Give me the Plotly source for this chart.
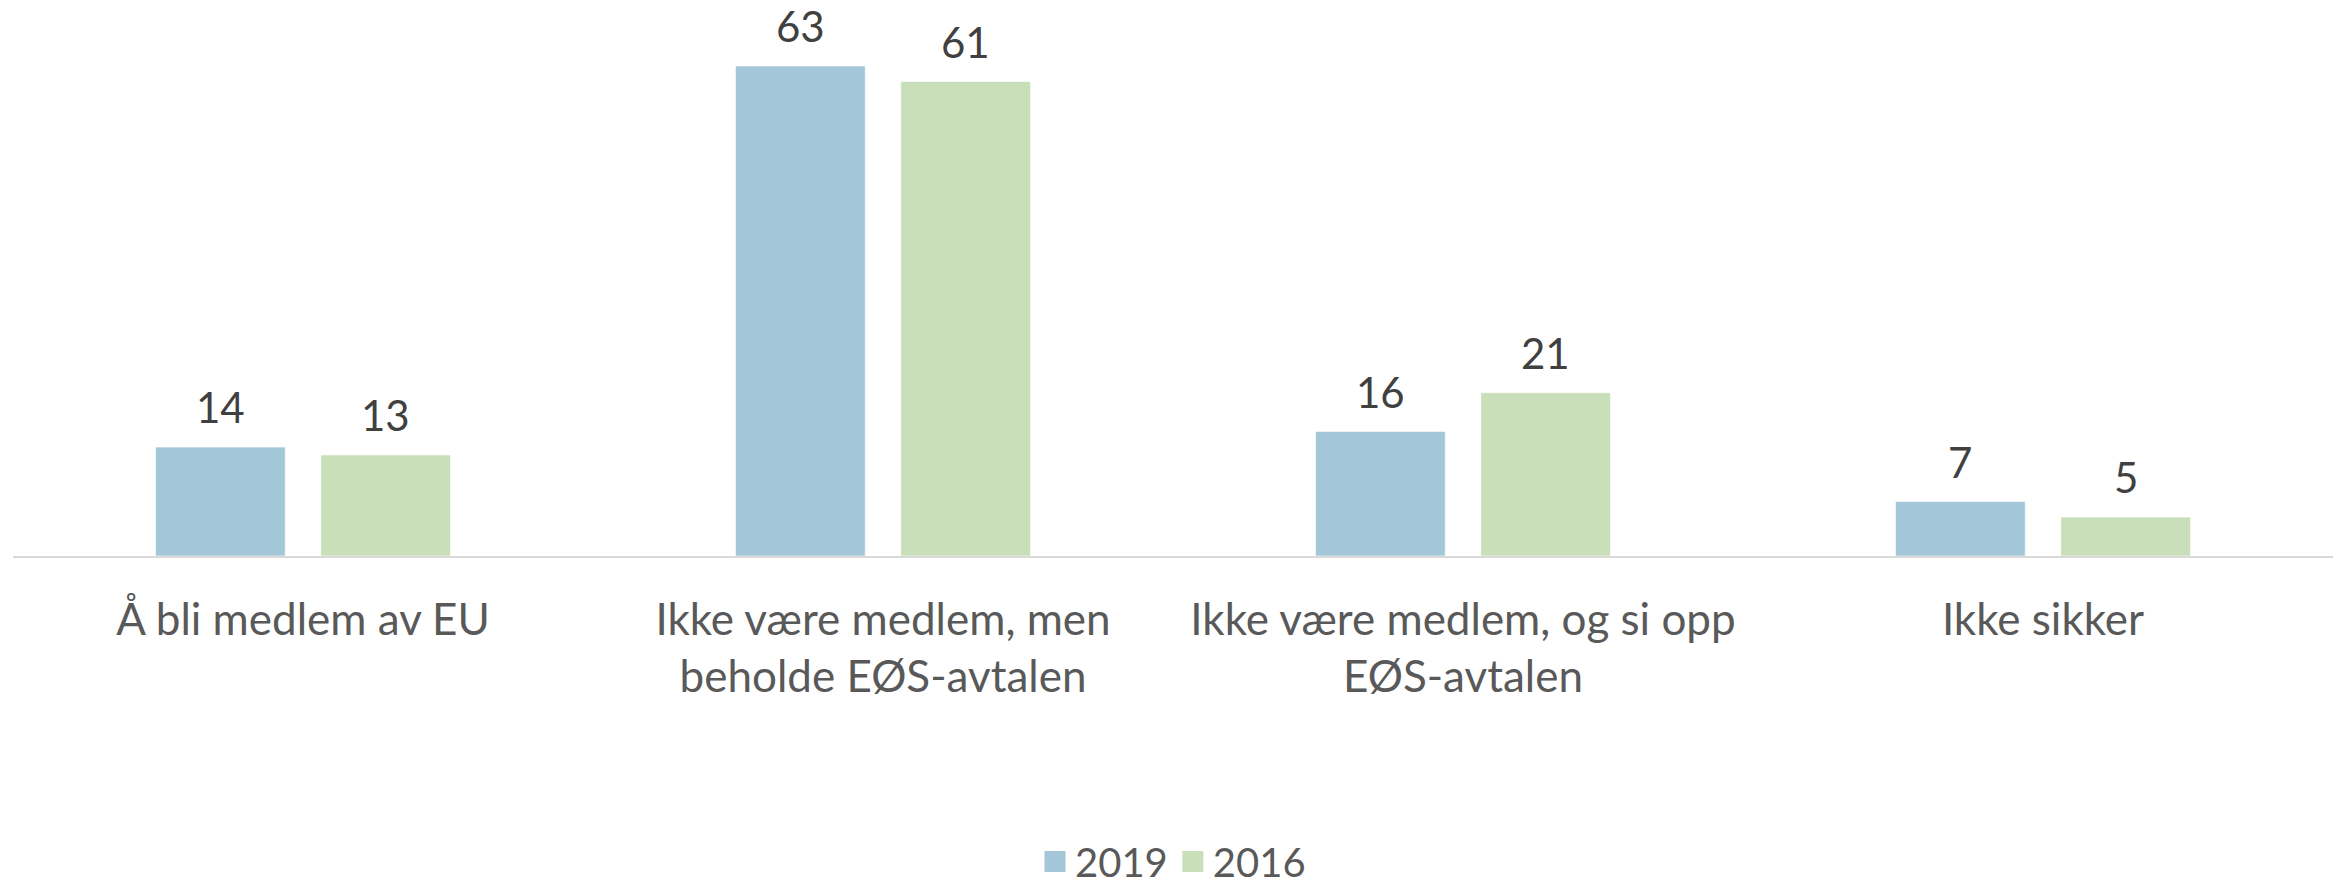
import plotly.graph_objects as go

categories = [
    "Å bli medlem av EU",
    "Ikke være medlem, men<br>beholde EØS-avtalen",
    "Ikke være medlem, og si opp<br>EØS-avtalen",
    "Ikke sikker",
]
series_names = ["2019", "2016"]
values_2019 = [14, 63, 16, 7]
values_2016 = [13, 61, 21, 5]

colors = ["#A3C6D9", "#C9DFBA"]
FONT = "Lato, 'Source Sans Pro', 'Noto Sans', sans-serif"

W, H = 2341, 891
ml, mr, mt, mb = 13, 8, 20, 335
bargap = 0.43
bargroupgap = 0.215

fig = go.Figure()
for name, vals, col in zip(series_names, [values_2019, values_2016], colors):
    fig.add_trace(go.Bar(
        x=categories, y=vals, name=name, legendgroup=name, showlegend=False,
        marker=dict(color=col, line=dict(width=1, color="rgba(255,255,255,0.6)")),
        hoverinfo="x+y+name",
    ))
# legend entries (larger square swatches than the fixed bar legend icon)
for name, col in zip(series_names, colors):
    fig.add_trace(go.Scatter(
        x=[None], y=[None], mode="markers", name=name, legendgroup=name,
        marker=dict(symbol="square", size=16, color=col, line=dict(width=5, color=col)),
        hoverinfo="skip",
    ))

plot_w = W - ml - mr
cat_w = plot_w / len(categories)
shift = cat_w * (1 - bargap) / 4
annotations = []
for k, vals in enumerate([values_2019, values_2016]):
    for c, v in zip(categories, vals):
        annotations.append(dict(
            x=c, y=v, xref="x", yref="y", text=str(v), showarrow=False,
            xshift=(-shift if k == 0 else shift), yanchor="bottom", yshift=13,
            font=dict(family=FONT, size=42, color="#404040"),
        ))

ymax = 63 * (H - mt - mb) / 490

fig.update_layout(
    width=W, height=H,
    margin=dict(l=ml, r=mr, t=mt, b=mb, autoexpand=False),
    paper_bgcolor="white", plot_bgcolor="white",
    barmode="group", bargap=bargap, bargroupgap=bargroupgap,
    font=dict(family=FONT, size=42, color="#595959"),
    annotations=annotations,
    showlegend=True,
    legend=dict(orientation="h", x=0.5, xanchor="center", y=-0.570, yanchor="middle",
                font=dict(family=FONT, size=40, color="#595959"),
                itemwidth=30, traceorder="normal", itemclick=False, itemdoubleclick=False),
    xaxis=dict(showline=True, linecolor="#D9D9D9", linewidth=2, showgrid=False,
               ticks="", ticklabelstandoff=24, automargin=False,
               tickfont=dict(family=FONT, size=44, color="#595959")),
    yaxis=dict(range=[0, ymax], visible=False, showgrid=False, zeroline=False, automargin=False),
)

fig.write_html("out.html", config={"displayModeBar": False},
               post_script="document.body.style.margin='0';document.body.style.overflow='hidden';")
